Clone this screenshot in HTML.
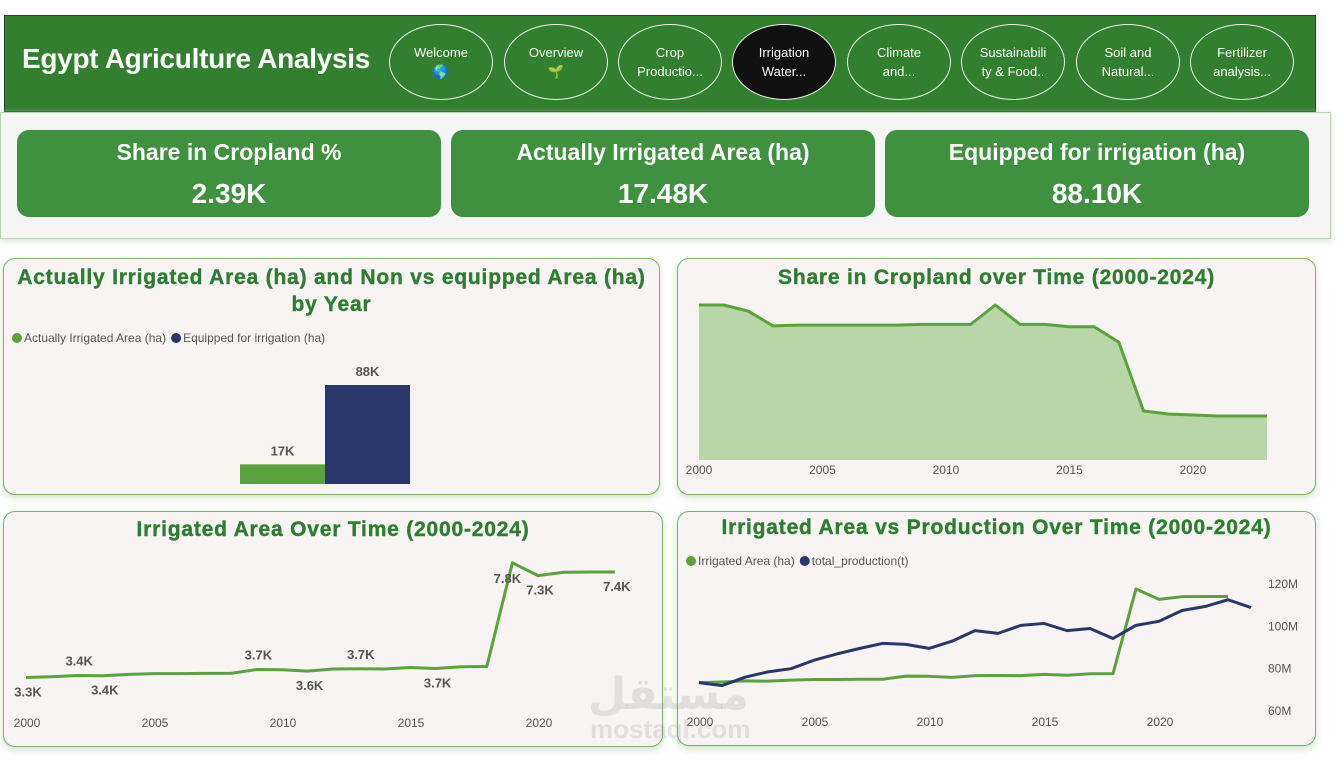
<!DOCTYPE html>
<html><head><meta charset="utf-8">
<style>
*{box-sizing:border-box;margin:0;padding:0}
body{width:1344px;height:761px;background:#ffffff;font-family:"Liberation Sans",sans-serif;position:relative;overflow:hidden}
.abs{position:absolute}
.header{left:4px;top:15px;width:1312px;height:97px;background:#327f2f;border:1px solid #24422a}
.title{left:22px;top:43px;color:#fff;font-size:28px;font-weight:bold;letter-spacing:-0.3px}
.nav{width:104px;height:76px;top:24px;border:1.5px solid #e8f0e8;border-radius:50%;color:#fff;font-size:13px;text-align:center;display:flex;align-items:center;justify-content:center;line-height:19px}
.nav.active{background:#111;}
.kpiwrap{left:0;top:112px;width:1331px;height:127px;background:#f4f5f4;border:1px solid #b7d6b0;box-shadow:0 2px 6px #cfe5c9}
.kpi{top:130px;width:424px;height:87px;background:#3f9140;border-radius:12px;color:#fff;text-align:center}
.kpi .t{font-size:23px;font-weight:bold;margin-top:9px}
.kpi .v{font-size:28px;font-weight:bold;margin-top:12px}
.panel{background:#f7f4f3;border:1px solid #7fb071;border-radius:12px;box-shadow:0 3px 8px #cfe5c9}
.ptitle{color:#2e7d32;font-size:21px;letter-spacing:0.8px;font-weight:bold;text-align:center;width:100%;line-height:27px;-webkit-text-stroke:0.4px #2e7d32}
svg text{font-family:"Liberation Sans",sans-serif}
</style></head><body>
<div class="abs header"></div>
<div class="abs title">Egypt Agriculture Analysis</div>
<div class="abs nav" style="left:389px">Welcome<br>🌎</div>
<div class="abs nav" style="left:504px">Overview<br>🌱</div>
<div class="abs nav" style="left:618px">Crop<br>Productio...</div>
<div class="abs nav active" style="left:732px">Irrigation<br>Water...</div>
<div class="abs nav" style="left:847px">Climate<br>and...</div>
<div class="abs nav" style="left:961px">Sustainabili<br>ty &amp; Food..</div>
<div class="abs nav" style="left:1076px">Soil and<br>Natural...</div>
<div class="abs nav" style="left:1190px">Fertilizer<br>analysis...</div>

<div class="abs kpiwrap"></div>
<div class="abs kpi" style="left:17px"><div class="t">Share in Cropland %</div><div class="v">2.39K</div></div>
<div class="abs kpi" style="left:451px"><div class="t">Actually Irrigated Area (ha)</div><div class="v">17.48K</div></div>
<div class="abs kpi" style="left:885px"><div class="t">Equipped for irrigation (ha)</div><div class="v">88.10K</div></div>

<div class="abs panel" style="left:3px;top:258px;width:657px;height:237px"></div>
<div class="abs panel" style="left:677px;top:258px;width:639px;height:237px"></div>
<div class="abs panel" style="left:3px;top:511px;width:660px;height:236px"></div>
<div class="abs panel" style="left:677px;top:511px;width:639px;height:235px"></div>

<div class="abs ptitle" style="left:3px;top:264px;width:657px">Actually Irrigated Area (ha) and Non vs equipped Area (ha)<br>by Year</div>
<div class="abs ptitle" style="left:677px;top:264px;width:639px">Share in Cropland over Time (2000-2024)</div>
<div class="abs ptitle" style="left:3px;top:516px;width:660px">Irrigated Area Over Time (2000-2024)</div>
<div class="abs ptitle" style="left:677px;top:514px;width:639px">Irrigated Area vs Production Over Time (2000-2024)</div>

<svg class="abs" style="left:0;top:0" width="1344" height="761" id="charts"></svg>

<div class="abs" style="left:588px;top:668px;color:rgba(150,150,150,0.22);font-size:44px;font-weight:bold;font-family:'Noto Sans CJK SC','DejaVu Sans',sans-serif;line-height:44px">مستقل</div>
<div class="abs" style="left:590px;top:716px;color:rgba(150,150,150,0.22);font-size:26px;font-weight:bold;line-height:26px">mostaql.com</div>

<script>
const barCats=["Actually Irrigated Area (ha)","Equipped for irrigation (ha)"];
const barVals=[17.48,88.1];
const barLabels=["17K","88K"];
const years=[2000,2001,2002,2003,2004,2005,2006,2007,2008,2009,2010,2011,2012,2013,2014,2015,2016,2017,2018,2019,2020,2021,2022,2023];
const shareVals=[100,100,96,86.5,87,87,87,87,87,87.5,87.5,87.5,100,87.5,87.5,86,86,76,31.6,29.7,29,28.4,28.4,28.4];
const irrVals=[3.32,3.35,3.40,3.39,3.44,3.47,3.47,3.48,3.48,3.63,3.62,3.57,3.65,3.66,3.65,3.71,3.67,3.74,3.75,7.80,7.30,7.43,7.44,7.44];
const irrLabelIdx=[0,2,3,9,11,13,16,19,20,23];
const irrLabelText=["3.3K","3.4K","3.4K","3.7K","3.6K","3.7K","3.7K","7.8K","7.3K","7.4K"];
const irrLabelPos=[1,-1,1,-1,1,-1,1,2,1,1];
const prodYears=[2000,2001,2002,2003,2004,2005,2006,2007,2008,2009,2010,2011,2012,2013,2014,2015,2016,2017,2018,2019,2020,2021,2022,2023,2024];
const prodVals=[73.4,72,76,78.5,80,84,87,89.6,92,91.5,89.6,93,98,96.7,100.5,101.4,98,99,94.3,100.5,102.4,107.5,109.4,112.6,108.9];
const yearTicks=[2000,2005,2010,2015,2020];
const prodTicks=[60,80,100,120];

const svg=document.getElementById('charts');
const NS='http://www.w3.org/2000/svg';
function mk(tag,attrs,txt){const e=document.createElementNS(NS,tag);for(const k in attrs)e.setAttribute(k,attrs[k]);if(txt!==undefined)e.textContent=txt;svg.appendChild(e);return e;}

function legend(x,y,items,name){let cx=x;items.forEach((it,i)=>{
 const c=mk('circle',{cx:cx+5,cy:y,r:5,fill:it[1]});
 
 
 const t=mk('text',{x:cx+12,y:y+4,'font-size':12,fill:'#555'},it[0]);
 
 
 cx+=12+t.getComputedTextLength()+5;});}
legend(12,338,[["Actually Irrigated Area (ha)","#5ba23c"],["Equipped for irrigation (ha)","#2b376b"]],'bar-legend');
legend(686,561,[["Irrigated Area (ha)","#5ba23c"],["total_production(t)","#2b376b"]],'prod-legend');

const bBase=484,bScale=99/88.1,bX0=240,bW=85,bCol=["#5ba23c","#2b376b"];
barVals.forEach((v,i)=>{const h=v*bScale;
 const r=mk('rect',{x:bX0+i*bW,y:bBase-h,width:bW,height:h,fill:bCol[i]});
 
 
 const t=mk('text',{x:bX0+i*bW+bW/2,y:bBase-h-9,'text-anchor':'middle','font-size':13,'font-weight':'bold',fill:'#555'},barLabels[i]);
 
 });

const sx=y=>699+(y-2000)*(1267-699)/23, sy=v=>460-v*1.55;
let pts=years.map((y,i)=>sx(y)+','+sy(shareVals[i])).join(' ');
const ar=mk('polygon',{points:sx(2000)+',460 '+pts+' '+sx(2023)+',460',fill:'#b9d6a8'});


const sl=mk('polyline',{points:pts,fill:'none',stroke:'#5ba23c','stroke-width':3,'stroke-linejoin':'round'});


yearTicks.forEach(y=>{const t=mk('text',{x:sx(y),y:474,'text-anchor':'middle','font-size':12,fill:'#555'},y);
 
 });

const ix=y=>26+(y-2000)*25.6, iy=v=>678-(v-3.3)*25.6;
const il=mk('polyline',{points:years.map((y,i)=>ix(y)+','+iy(irrVals[i])).join(' '),fill:'none',stroke:'#5ba23c','stroke-width':3,'stroke-linejoin':'round'});


irrLabelIdx.forEach((idx,k)=>{const p=irrLabelPos[k];let x=ix(years[idx]),y=iy(irrVals[idx]);
 let ty=p==-1?y-10:(p==2?y+20:y+19); if(p==2)x-=7;
 const t=mk('text',{x:x+2,y:ty,'text-anchor':'middle','font-size':13,'font-weight':'bold',fill:'#555'},irrLabelText[k]);
 
 });
yearTicks.forEach(y=>{const t=mk('text',{x:ix(y)+1,y:727,'text-anchor':'middle','font-size':12,fill:'#555'},y);
 
 });

const px=y=>699+(y-2000)*23, py=v=>711-(v-60)*2.115, pi=v=>683-(v-3.3)*20.9;
const pg=mk('polyline',{points:years.map((y,i)=>px(y)+','+pi(irrVals[i])).join(' '),fill:'none',stroke:'#5ba23c','stroke-width':3,'stroke-linejoin':'round'});


const pn=mk('polyline',{points:prodYears.map((y,i)=>px(y)+','+py(prodVals[i])).join(' '),fill:'none',stroke:'#2b376b','stroke-width':3,'stroke-linejoin':'round'});


yearTicks.forEach(y=>{const t=mk('text',{x:px(y)+1,y:726,'text-anchor':'middle','font-size':12,fill:'#555'},y);
 
 });
prodTicks.forEach(v=>{const t=mk('text',{x:1268,y:py(v)+4,'font-size':12,fill:'#555'},v+'M');
 
 });
</script>
</body></html>
